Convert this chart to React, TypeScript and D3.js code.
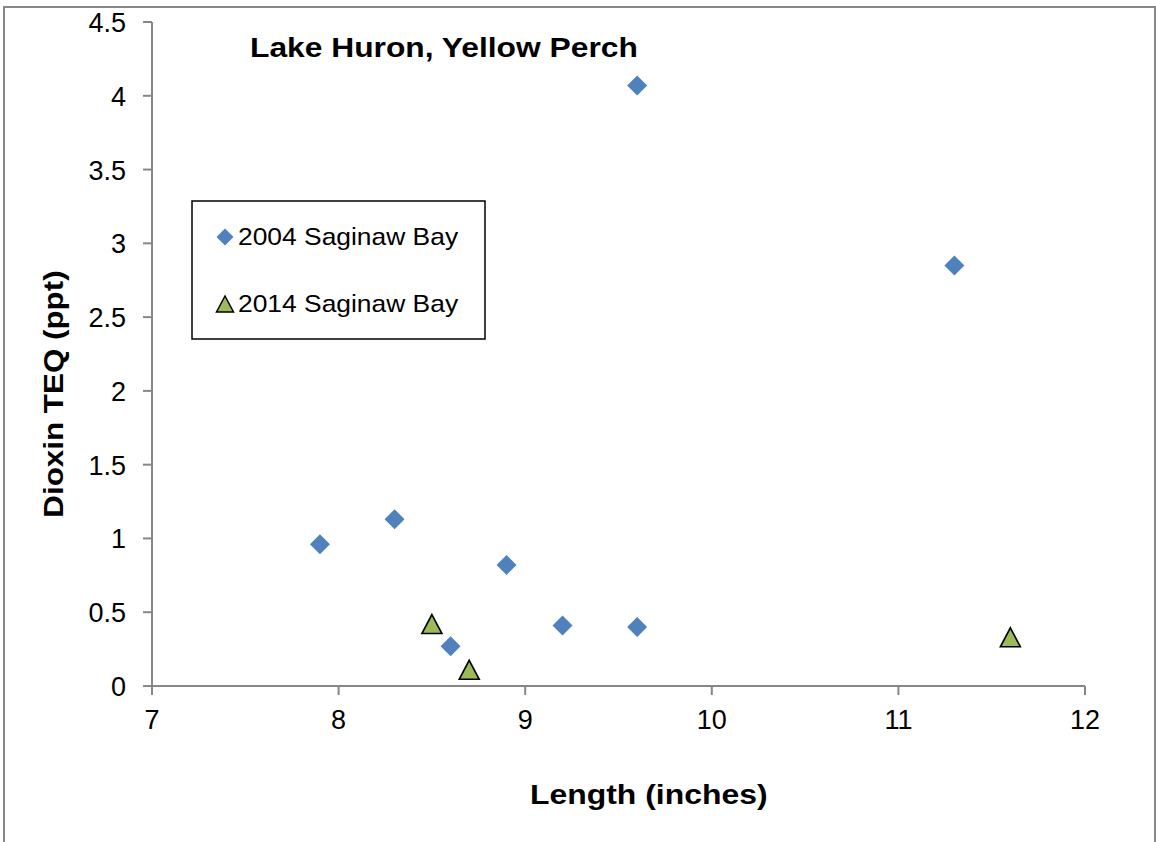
import React from "react";
import * as d3 from "d3";

const lengths2004 = [7.9, 8.3, 8.6, 8.9, 9.2, 9.6, 9.6, 11.3];
const teq2004 = [0.96, 1.13, 0.27, 0.82, 0.41, 0.40, 4.07, 2.85];
const lengths2014 = [8.5, 8.7, 11.6];
const teq2014 = [0.42, 0.11, 0.33];
const xTicks = [7, 8, 9, 10, 11, 12];
const yTicks = [0, 0.5, 1, 1.5, 2, 2.5, 3, 3.5, 4, 4.5];
const seriesNames = ["2004 Saginaw Bay", "2014 Saginaw Bay"];
const chartTitle = "Lake Huron, Yellow Perch";
const xTitle = "Length (inches)";
const yTitle = "Dioxin TEQ (ppt)";

const FONT = "'Liberation Sans', Arial, sans-serif";
const AXIS = "#868686";
const BLUE = "#4F81BD";
const GREEN = "#9BBB59";

function diamondPath(half: number) {
  const p = d3.path();
  p.moveTo(0, -half);
  p.lineTo(half, 0);
  p.lineTo(0, half);
  p.lineTo(-half, 0);
  p.closePath();
  return p.toString();
}
function trianglePath(w: number, h: number) {
  const p = d3.path();
  p.moveTo(0, -h / 2);
  p.lineTo(w / 2, h / 2);
  p.lineTo(-w / 2, h / 2);
  p.closePath();
  return p.toString();
}

function SText(props: {
  x: number; y: number; size: number; sx?: number; bold?: boolean;
  anchor?: string; rotate?: number; children: React.ReactNode;
}) {
  const { x, y, size, sx = 1, bold, anchor = "start", rotate = 0, children } = props;
  return (
    <text
      transform={`translate(${x},${y}) rotate(${rotate}) scale(${sx},1)`}
      fontFamily={FONT}
      fontSize={size}
      fontWeight={bold ? "bold" : "normal"}
      textAnchor={anchor}
      fill="#000"
    >
      {children}
    </text>
  );
}

export default function App() {
  const W = 1156, H = 842;
  const x = d3.scaleLinear().domain([7, 12]).range([152, 1085]);
  const y = d3.scaleLinear().domain([0, 4.5]).range([686, 22]);
  const pts2004 = lengths2004.map((l, i) => ({ l, v: teq2004[i] }));
  const pts2014 = lengths2014.map((l, i) => ({ l, v: teq2014[i] }));
  const dia = diamondPath(10);
  const tri = trianglePath(20, 19);
  const legDia = diamondPath(8.5);
  const legTri = trianglePath(17, 16);

  return (
    <svg width={W} height={H} style={{ position: "absolute", left: 0, top: 0, background: "#fff" }}>
      <rect x={0} y={0} width={W} height={H} fill="#fff" />
      <rect x={4} y={7} width={1151} height={860} fill="none" stroke="#888" strokeWidth={2} />

      {/* y axis */}
      <line x1={x(7)} x2={x(7)} y1={y(4.5)} y2={y(0)} stroke={AXIS} strokeWidth={2} />
      {yTicks.map((t) => (
        <g key={"y" + t}>
          <line x1={x(7) - 9} x2={x(7)} y1={y(t)} y2={y(t)} stroke={AXIS} strokeWidth={2} />
          <SText x={126} y={y(t) + 10} size={27} anchor="end">{String(t)}</SText>
        </g>
      ))}
      {/* x axis */}
      <line x1={x(7)} x2={x(12)} y1={y(0)} y2={y(0)} stroke={AXIS} strokeWidth={2} />
      {xTicks.map((t) => (
        <g key={"x" + t}>
          <line x1={x(t)} x2={x(t)} y1={y(0)} y2={y(0) + 9} stroke={AXIS} strokeWidth={2} />
          <SText x={x(t)} y={729} size={27} anchor="middle">{String(t)}</SText>
        </g>
      ))}

      {/* titles */}
      <SText x={250} y={57} size={28} sx={1.135} bold>{chartTitle}</SText>
      <SText x={530} y={804} size={28} sx={1.14} bold>{xTitle}</SText>
      <SText x={63} y={394} size={28} sx={1.12} bold anchor="middle" rotate={-90}>{yTitle}</SText>

      {/* data */}
      {pts2004.map((p, i) => (
        <path key={"a" + i} d={dia} transform={`translate(${x(p.l)},${y(p.v)})`} fill={BLUE} />
      ))}
      {pts2014.map((p, i) => (
        <path key={"b" + i} d={tri} transform={`translate(${x(p.l)},${y(p.v)})`} fill={GREEN} stroke="#000" strokeWidth={1.6} strokeLinejoin="miter" />
      ))}

      {/* legend */}
      <rect x={192} y={201} width={293} height={138} fill="#fff" stroke="#000" strokeWidth={1.5} />
      <path d={legDia} transform="translate(225,237)" fill={BLUE} />
      <SText x={238} y={245} size={24} sx={1.1}>{seriesNames[0]}</SText>
      <path d={legTri} transform="translate(225,304)" fill={GREEN} stroke="#000" strokeWidth={1.5} />
      <SText x={238} y={312} size={24} sx={1.1}>{seriesNames[1]}</SText>
    </svg>
  );
}
